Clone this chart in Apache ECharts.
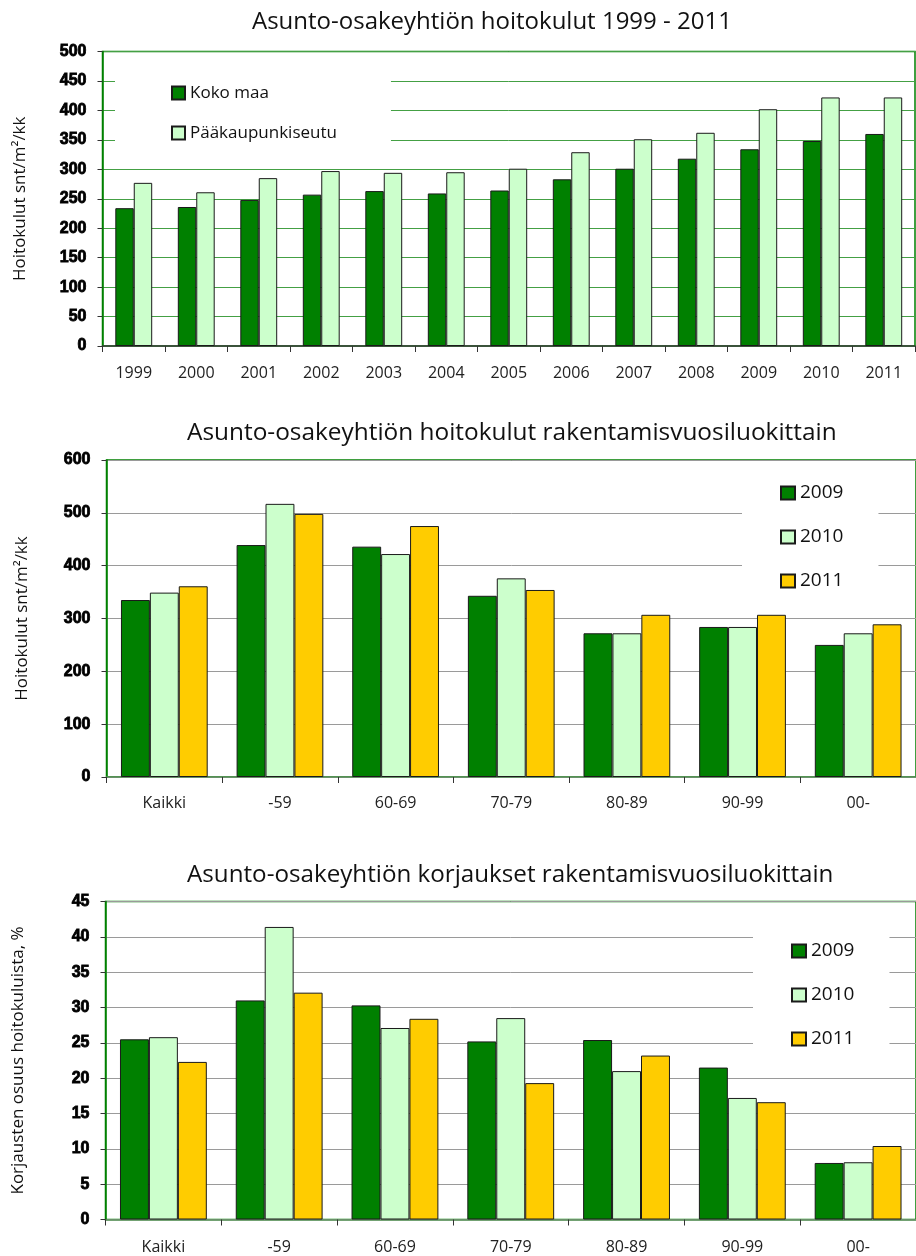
<!DOCTYPE html>
<html>
<head>
<meta charset="utf-8">
<script src="https://cdn.jsdelivr.net/npm/echarts@6/dist/echarts.min.js"></script>
<style>
  html, body { margin: 0; padding: 0; background: #ffffff; }
  #chart { width: 916px; height: 1256px; }
</style>
</head>
<body>
<div id="chart"></div>
<script>
// Maintenance costs by year (snt/m²/kk)
const years = ['1999', '2000', '2001', '2002', '2003', '2004', '2005', '2006', '2007', '2008', '2009', '2010', '2011'];
const kokoMaa = [234, 236, 248, 257, 263, 259, 264, 283, 301, 318, 334, 348, 360];
const paakaupunkiseutu = [277, 261, 285, 297, 294, 295, 301, 329, 351, 362, 402, 422, 422];

// Construction-year classes
const classes = ['Kaikki', '-59', '60-69', '70-79', '80-89', '90-99', '00-'];

// Maintenance costs by construction-year class (snt/m²/kk)
const cost2009 = [335, 439, 436, 343, 272, 284, 250];
const cost2010 = [349, 517, 422, 376, 272, 284, 272];
const cost2011 = [361, 498, 475, 354, 307, 307, 289];

// Share of repairs in maintenance costs (%)
const repair2009 = [25.5, 31.0, 30.3, 25.2, 25.4, 21.5, 8.0];
const repair2010 = [25.8, 41.4, 27.1, 28.5, 21.0, 17.2, 8.1];
const repair2011 = [22.3, 32.1, 28.4, 19.3, 23.2, 16.6, 10.4];

const DARK = '#008000';
const LIGHT = '#CCFFCC';
const GOLD = '#FFCC00';
const SANS = '"Open Sans", sans-serif';
const BOLD = '"Liberation Sans", Arial, sans-serif';

const titleStyle = { fontFamily: SANS, fontSize: 24, fontWeight: 'normal', color: '#111' };

function yAxisFor(gridIndex, max, interval, name, nameGap, splitColor) {
  return {
    gridIndex, type: 'value', min: 0, max, interval,
    name, nameLocation: 'middle', nameGap, nameRotate: 90,
    nameTextStyle: { fontFamily: SANS, fontSize: 17, color: '#111' },
    axisLine: { show: true, lineStyle: { color: DARK, width: 1.5 } },
    axisTick: { show: true, length: 5, lineStyle: { color: '#333' } },
    axisLabel: {
      margin: 16, fontFamily: BOLD, fontWeight: 'bold', fontSize: 16, color: '#000',
      textBorderColor: '#000', textBorderWidth: 0.8
    },
    splitLine: { show: true, lineStyle: { color: splitColor, width: 1 } }
  };
}

function xAxisFor(gridIndex, data, lineColor, margin) {
  return {
    gridIndex, type: 'category', data,
    axisLine: { show: true, lineStyle: { color: lineColor, width: 1.5 } },
    axisTick: { show: true, length: 6, lineStyle: { color: '#333' } },
    axisLabel: { margin, fontFamily: SANS, fontSize: 16, color: '#222' }
  };
}

function barSeries(name, data, color, axisIndex, catGap) {
  return {
    type: 'bar', name, data,
    xAxisIndex: axisIndex, yAxisIndex: axisIndex,
    barGap: '0%', barCategoryGap: catGap,
    itemStyle: { color, borderColor: '#1a1a1a', borderWidth: 1 },
    emphasis: { disabled: true }
  };
}

const legendText = (size) => ({ fontFamily: SANS, fontSize: size, color: '#111', lineHeight: 22 });

const option = {
  animation: false,
  backgroundColor: '#ffffff',
  title: [
    { text: 'Asunto-osakeyhtiön hoitokulut 1999 - 2011', left: 247, top: 5, textStyle: titleStyle },
    { text: 'Asunto-osakeyhtiön hoitokulut rakentamisvuosiluokittain', left: 182, top: 416, textStyle: { ...titleStyle, fontSize: 24.4 } },
    { text: 'Asunto-osakeyhtiön korjaukset rakentamisvuosiluokittain', left: 182, top: 858, textStyle: { ...titleStyle, fontSize: 24.2 } }
  ],
  grid: [
    { left: 102.5, top: 51.5, right: 1, height: 294.5, show: true, borderColor: DARK, borderWidth: 1.5 },
    { left: 106.5, top: 460, right: 0, height: 317, show: true, borderColor: DARK, borderWidth: 1.5 },
    { left: 105.5, top: 901.5, right: 0, height: 318, show: true, borderColor: DARK, borderWidth: 1.5 }
  ],
  legend: [
    {
      data: ['Koko maa', 'Pääkaupunkiseutu'], orient: 'vertical',
      left: 115, top: 70, padding: [12, 54, 8, 56], itemGap: 18,
      itemWidth: 13, itemHeight: 13, icon: 'rect',
      backgroundColor: '#ffffff', textStyle: legendText(17)
    },
    {
      data: ['2009', '2010', '2011'], orient: 'vertical',
      left: 742, top: 470, padding: [12, 35, 8, 38], itemGap: 22,
      itemWidth: 14, itemHeight: 13, icon: 'rect',
      backgroundColor: '#ffffff', textStyle: legendText(19)
    },
    {
      data: ['2009', '2010', '2011'], orient: 'vertical',
      left: 753, top: 925, padding: [15, 35, 8, 38], itemGap: 22,
      itemWidth: 14, itemHeight: 13, icon: 'rect',
      backgroundColor: '#ffffff', textStyle: legendText(19)
    }
  ],
  xAxis: [
    xAxisFor(0, years, '#3a3a3a', 19),
    xAxisFor(1, classes, '#5b8f5b', 18),
    xAxisFor(2, classes, '#5b8f5b', 20)
  ],
  yAxis: [
    yAxisFor(0, 500, 50, 'Hoitokulut snt/m²/kk', 74, '#44a044'),
    yAxisFor(1, 600, 100, 'Hoitokulut snt/m²/kk', 76, '#9a9a9a'),
    yAxisFor(2, 45, 5, 'Korjausten osuus hoitokuluista, %', 79, '#9a9a9a')
  ],
  series: [
    barSeries('Koko maa', kokoMaa, DARK, 0, '41%'),
    barSeries('Pääkaupunkiseutu', paakaupunkiseutu, LIGHT, 0, '41%'),
    barSeries('2009', cost2009, DARK, 1, '25%'),
    barSeries('2010', cost2010, LIGHT, 1, '25%'),
    barSeries('2011', cost2011, GOLD, 1, '25%'),
    barSeries('2009', repair2009, DARK, 2, '25%'),
    barSeries('2010', repair2010, LIGHT, 2, '25%'),
    barSeries('2011', repair2011, GOLD, 2, '25%')
  ]
};

const chart = echarts.init(document.getElementById('chart'), null, { renderer: 'canvas' });
chart.setOption(option);
</script>
</body>
</html>
